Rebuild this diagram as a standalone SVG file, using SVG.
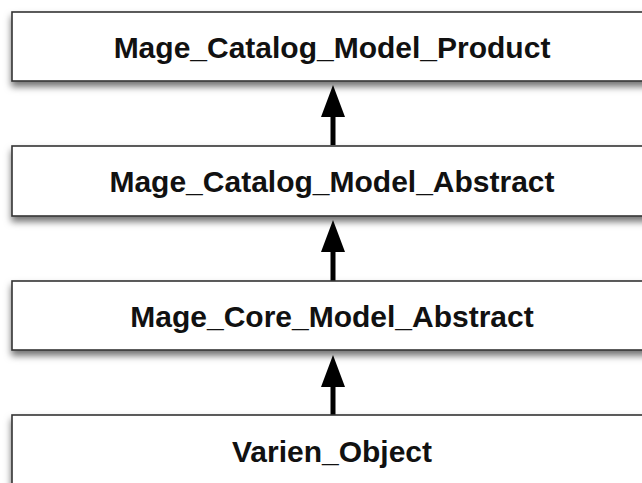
<svg xmlns="http://www.w3.org/2000/svg" width="642" height="483" viewBox="0 0 642 483">
<defs>
<filter id="sh" x="-10%" y="-20%" width="120%" height="160%">
<feDropShadow dx="0" dy="5" stdDeviation="3.5" flood-color="#000" flood-opacity="0.55"/>
</filter>
</defs>
<style>
.box{fill:#fff;stroke:#333;stroke-width:1.6;filter:url(#sh)}
.lbl{font-family:"Liberation Sans",Arial,sans-serif;font-weight:bold;font-size:30px;fill:#111;text-anchor:middle}
.con line{stroke:#000;stroke-width:5}
.con path{fill:#000}
</style>
<rect width="642" height="483" fill="#fff"/>
<g id="connectors" class="con">
<line x1="333" y1="145" x2="333" y2="114"/>
<path d="M333,85 L345,117 L321,117 Z"/>
<line x1="333" y1="281" x2="333" y2="249"/>
<path d="M333,220 L345,252 L321,252 Z"/>
<line x1="333" y1="415" x2="333" y2="384"/>
<path d="M333,355 L345,387 L321,387 Z"/>
</g>
<g id="product">
<rect class="box" x="12" y="12" width="660" height="69"/>
<text class="lbl" x="332" y="58">Mage_Catalog_Model_Product</text>
</g>
<g id="catalog-abstract">
<rect class="box" x="12" y="146" width="660" height="70"/>
<text class="lbl" x="332" y="192">Mage_Catalog_Model_Abstract</text>
</g>
<g id="core-abstract">
<rect class="box" x="12" y="281" width="660" height="69"/>
<text class="lbl" x="332" y="327">Mage_Core_Model_Abstract</text>
</g>
<g id="varien-object">
<rect class="box" x="12" y="415" width="660" height="70"/>
<text class="lbl" x="332" y="462">Varien_Object</text>
</g>
</svg>
